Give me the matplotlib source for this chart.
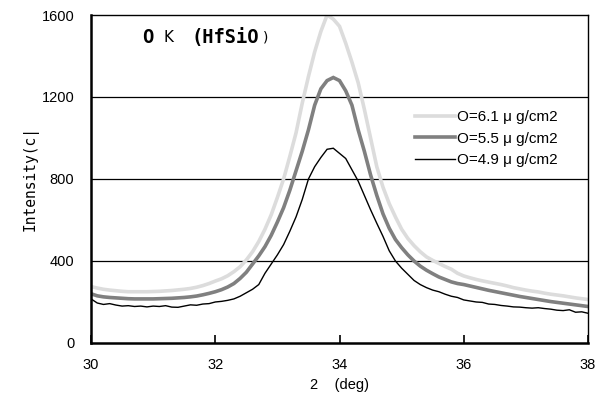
import matplotlib
matplotlib.use("Agg")
import matplotlib.pyplot as plt
import numpy as np

# 2theta grid (deg)
two_theta = [round(30 + 0.1 * i, 1) for i in range(81)]

# O = 6.1 ug/cm2 (light gray)
o61 = [275, 268, 262, 258, 255, 252, 250, 250, 250, 250,
       251, 252, 254, 256, 259, 262, 266, 272, 280, 290,
       302, 313, 328, 348, 372, 405, 445, 495, 555, 625,
       710, 800, 910, 1025, 1170, 1300, 1420, 1520, 1600, 1580,
       1545, 1462, 1370, 1270, 1140, 1000, 860, 760, 680, 615,
       555, 510, 475, 445, 420, 403, 388, 373, 360, 340,
       327, 318, 310, 303, 297, 291, 285, 278, 270, 264,
       258, 253, 249, 243, 238, 234, 230, 225, 220, 216,
       212]

# O = 5.5 ug/cm2 (gray)
o55 = [240, 230, 225, 222, 220, 218, 216, 215, 215, 215,
       215, 216, 217, 218, 220, 222, 225, 229, 235, 242,
       250, 260, 273, 290, 315, 345, 385, 425, 470, 525,
       590, 660, 745, 840, 935, 1040, 1160, 1240, 1280, 1295,
       1280, 1230, 1160, 1040, 935, 820, 720, 630, 560, 505,
       465, 430, 400, 375, 355, 338, 322, 310, 298, 290,
       285, 278, 271, 264, 257, 251, 245, 239, 233, 227,
       222, 217, 212, 207, 202, 198, 194, 190, 186, 182,
       178]

# O = 4.9 ug/cm2 (black)
o49 = [215, 195, 188, 192, 185, 180, 182, 178, 180, 176,
       180, 178, 182, 175, 174, 180, 186, 184, 190, 192,
       200, 203, 208, 215, 228, 245, 262, 285, 340, 385,
       430, 480, 545, 615, 700, 800, 860, 905, 945, 950,
       925, 900, 845, 790, 720, 650, 584, 520, 450, 400,
       365, 335, 305, 285, 270, 258, 250, 238, 228, 222,
       210, 205, 200, 198, 190, 188, 183, 180, 176, 175,
       172, 170, 172, 168, 165, 160, 158, 162, 150, 152,
       145]

labels = ["O=6.1 \u03bc g/cm2", "O=5.5 \u03bc g/cm2", "O=4.9 \u03bc g/cm2"]
colors = ["#dcdcdc", "#808080", "#000000"]
widths = [2.6, 2.6, 1.0]

x_ticks = [30, 32, 34, 36, 38]
y_ticks = [0, 400, 800, 1200, 1600]

plt.rcParams['font.family'] = ['Liberation Sans', 'DejaVu Sans']

fig = plt.figure(figsize=(5.99, 3.99), dpi=100)
ax = fig.add_axes([0.152, 0.1404, 0.8296, 0.822])

for ys, lab, c, w in zip([o61, o55, o49], labels, colors, widths):
    ax.plot(two_theta, ys, color=c, lw=w, label=lab, solid_joinstyle='miter')

ax.set_xlim(30, 38)
ax.set_ylim(0, 1600)
ax.set_xticks(x_ticks)
ax.set_yticks(y_ticks)
ax.tick_params(axis='x', direction='in', length=6, width=1.2, labelsize=10.5, pad=11)
ax.tick_params(axis='y', direction='in', length=0, labelsize=10.5, pad=12)

for yv in y_ticks[1:-1]:
    ax.axhline(yv, color='black', lw=0.9, zorder=0)

ax.spines['left'].set_linewidth(1.8)
ax.spines['bottom'].set_linewidth(1.8)
ax.spines['top'].set_linewidth(1.0)
ax.spines['right'].set_linewidth(1.0)

ax.set_xlabel("2    (deg)", fontsize=10.5, labelpad=4)
ax.set_ylabel("Intensity(c|", fontsize=10.5, family='DejaVu Sans Mono', labelpad=2)

ax.text(0.103, 0.93, "O", transform=ax.transAxes, fontsize=13.5,
        family='DejaVu Sans Mono', fontweight='bold', va='center', ha='left')
ax.text(0.145, 0.93, "K", transform=ax.transAxes, fontsize=11,
        family='DejaVu Sans', va='center', ha='left')
ax.text(0.203, 0.93, "(HfSiO", transform=ax.transAxes, fontsize=13.5,
        family='DejaVu Sans Mono', fontweight='bold', va='center', ha='left')
ax.text(0.345, 0.93, ")", transform=ax.transAxes, fontsize=10,
        family='DejaVu Sans', va='center', ha='left')

leg = ax.legend(loc='upper left', bbox_to_anchor=(0.652, 0.71), frameon=False,
                fontsize=11, handlelength=2.6, handletextpad=0.15,
                labelspacing=0.5, borderaxespad=0, borderpad=0)

fig.savefig("out.png", dpi=100)
